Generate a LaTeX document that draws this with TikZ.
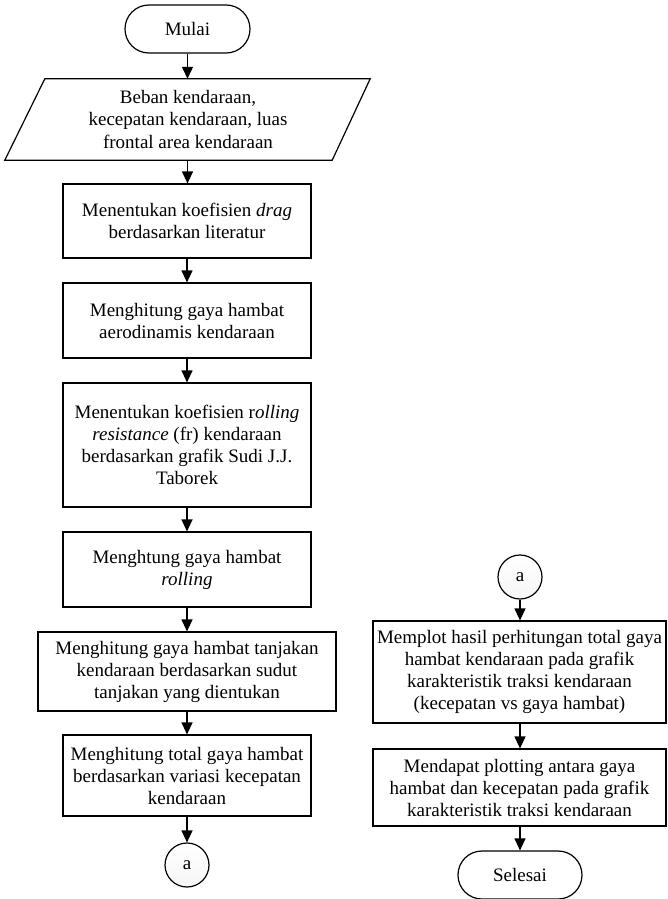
\documentclass[tikz,border=0pt]{standalone}
\usepackage{fontspec}
\setmainfont{Liberation Serif}
\usetikzlibrary{arrows.meta,calc}
\begin{document}
\begin{tikzpicture}[x=1pt,y=-1pt,
  every node/.style={font=\fontsize{19}{22}\selectfont, align=center, inner sep=2pt},
  procbox/.style={draw, line width=1.2pt, rectangle, minimum width=248pt},
  termbox/.style={draw, line width=1.2pt, rectangle, rounded corners=23.9pt, minimum width=125pt, minimum height=48pt},
  conn/.style={draw, line width=1.2pt, circle, minimum size=44pt, inner sep=0pt, top color=white, bottom color=blue!3!gray!7},
  arr/.style={line width=1.2pt, -{Triangle[length=12pt,width=11pt]}}]
\useasboundingbox (0,0) rectangle (667,899);
\fill[white] (0,0) rectangle (667,899);

% left column
\node[termbox] (mulai) at (187.5,29) {Mulai};
\node[minimum width=326pt, minimum height=81pt] (in) at (188,119.5) {Beban kendaraan,\\kecepatan kendaraan, luas\\frontal area kendaraan};
\draw[line width=1.2pt] ($(in.north west)+(20,0)$) -- ($(in.north east)+(19,0)$) -- ($(in.south east)+(-19,0)$) -- ($(in.south west)+(-20,0)$) -- cycle;
\node[procbox, minimum height=74pt] (b3) at (187,221) {Menentukan koefisien \textit{drag}\\berdasarkan literatur};
\node[procbox, minimum height=75pt] (b4) at (187,320.5) {Menghitung gaya hambat\\aerodinamis kendaraan};
\node[procbox, minimum height=124pt] (b5) at (187,445) {Menentukan koefisien r\textit{olling}\\\textit{resistance} (fr) kendaraan\\berdasarkan grafik Sudi J.J.\\Taborek};
\node[procbox, minimum height=75pt] (b6) at (187,569.5) {Menghtung gaya hambat\\\textit{rolling}};
\node[procbox, minimum width=298pt, minimum height=79pt] (b7) at (187,671.5) {Menghitung gaya hambat tanjakan\\kendaraan berdasarkan sudut\\tanjakan yang dientukan};
\node[procbox, minimum height=81pt] (b8) at (187,775.5) {Menghitung total gaya hambat\\berdasarkan variasi kecepatan\\kendaraan};
\node[conn] (a1) at (187,865) {a};

% right column
\node[conn] (a2) at (520,577) {a};
\node[procbox, minimum width=293pt, minimum height=102pt] (r1) at (519.5,672) {Memplot hasil perhitungan total gaya\\hambat kendaraan pada grafik\\karakteristik traksi kendaraan\\(kecepatan vs gaya hambat)};
\node[procbox, minimum width=293pt, minimum height=77pt] (r2) at (519.5,787.5) {Mendapat plotting antara gaya\\hambat dan kecepatan pada grafik\\karakteristik traksi kendaraan};
\node[termbox, minimum width=124pt] (selesai) at (520,875) {Selesai};

% connectors
\draw[arr] (mulai) -- (mulai |- in.north);
\draw[arr] (mulai |- in.south) -- (mulai |- b3.north);
\draw[arr] (b3) -- (b4);
\draw[arr] (b4) -- (b5);
\draw[arr] (b5) -- (b6);
\draw[arr] (b6) -- (b7);
\draw[arr] (b7) -- (b8);
\draw[arr] (b8) -- (a1);
\draw[arr] (a2) -- (a2 |- r1.north);
\draw[arr] (a2 |- r1.south) -- (a2 |- r2.north);
\draw[arr] (a2 |- r2.south) -- (selesai);
\end{tikzpicture}
\end{document}
